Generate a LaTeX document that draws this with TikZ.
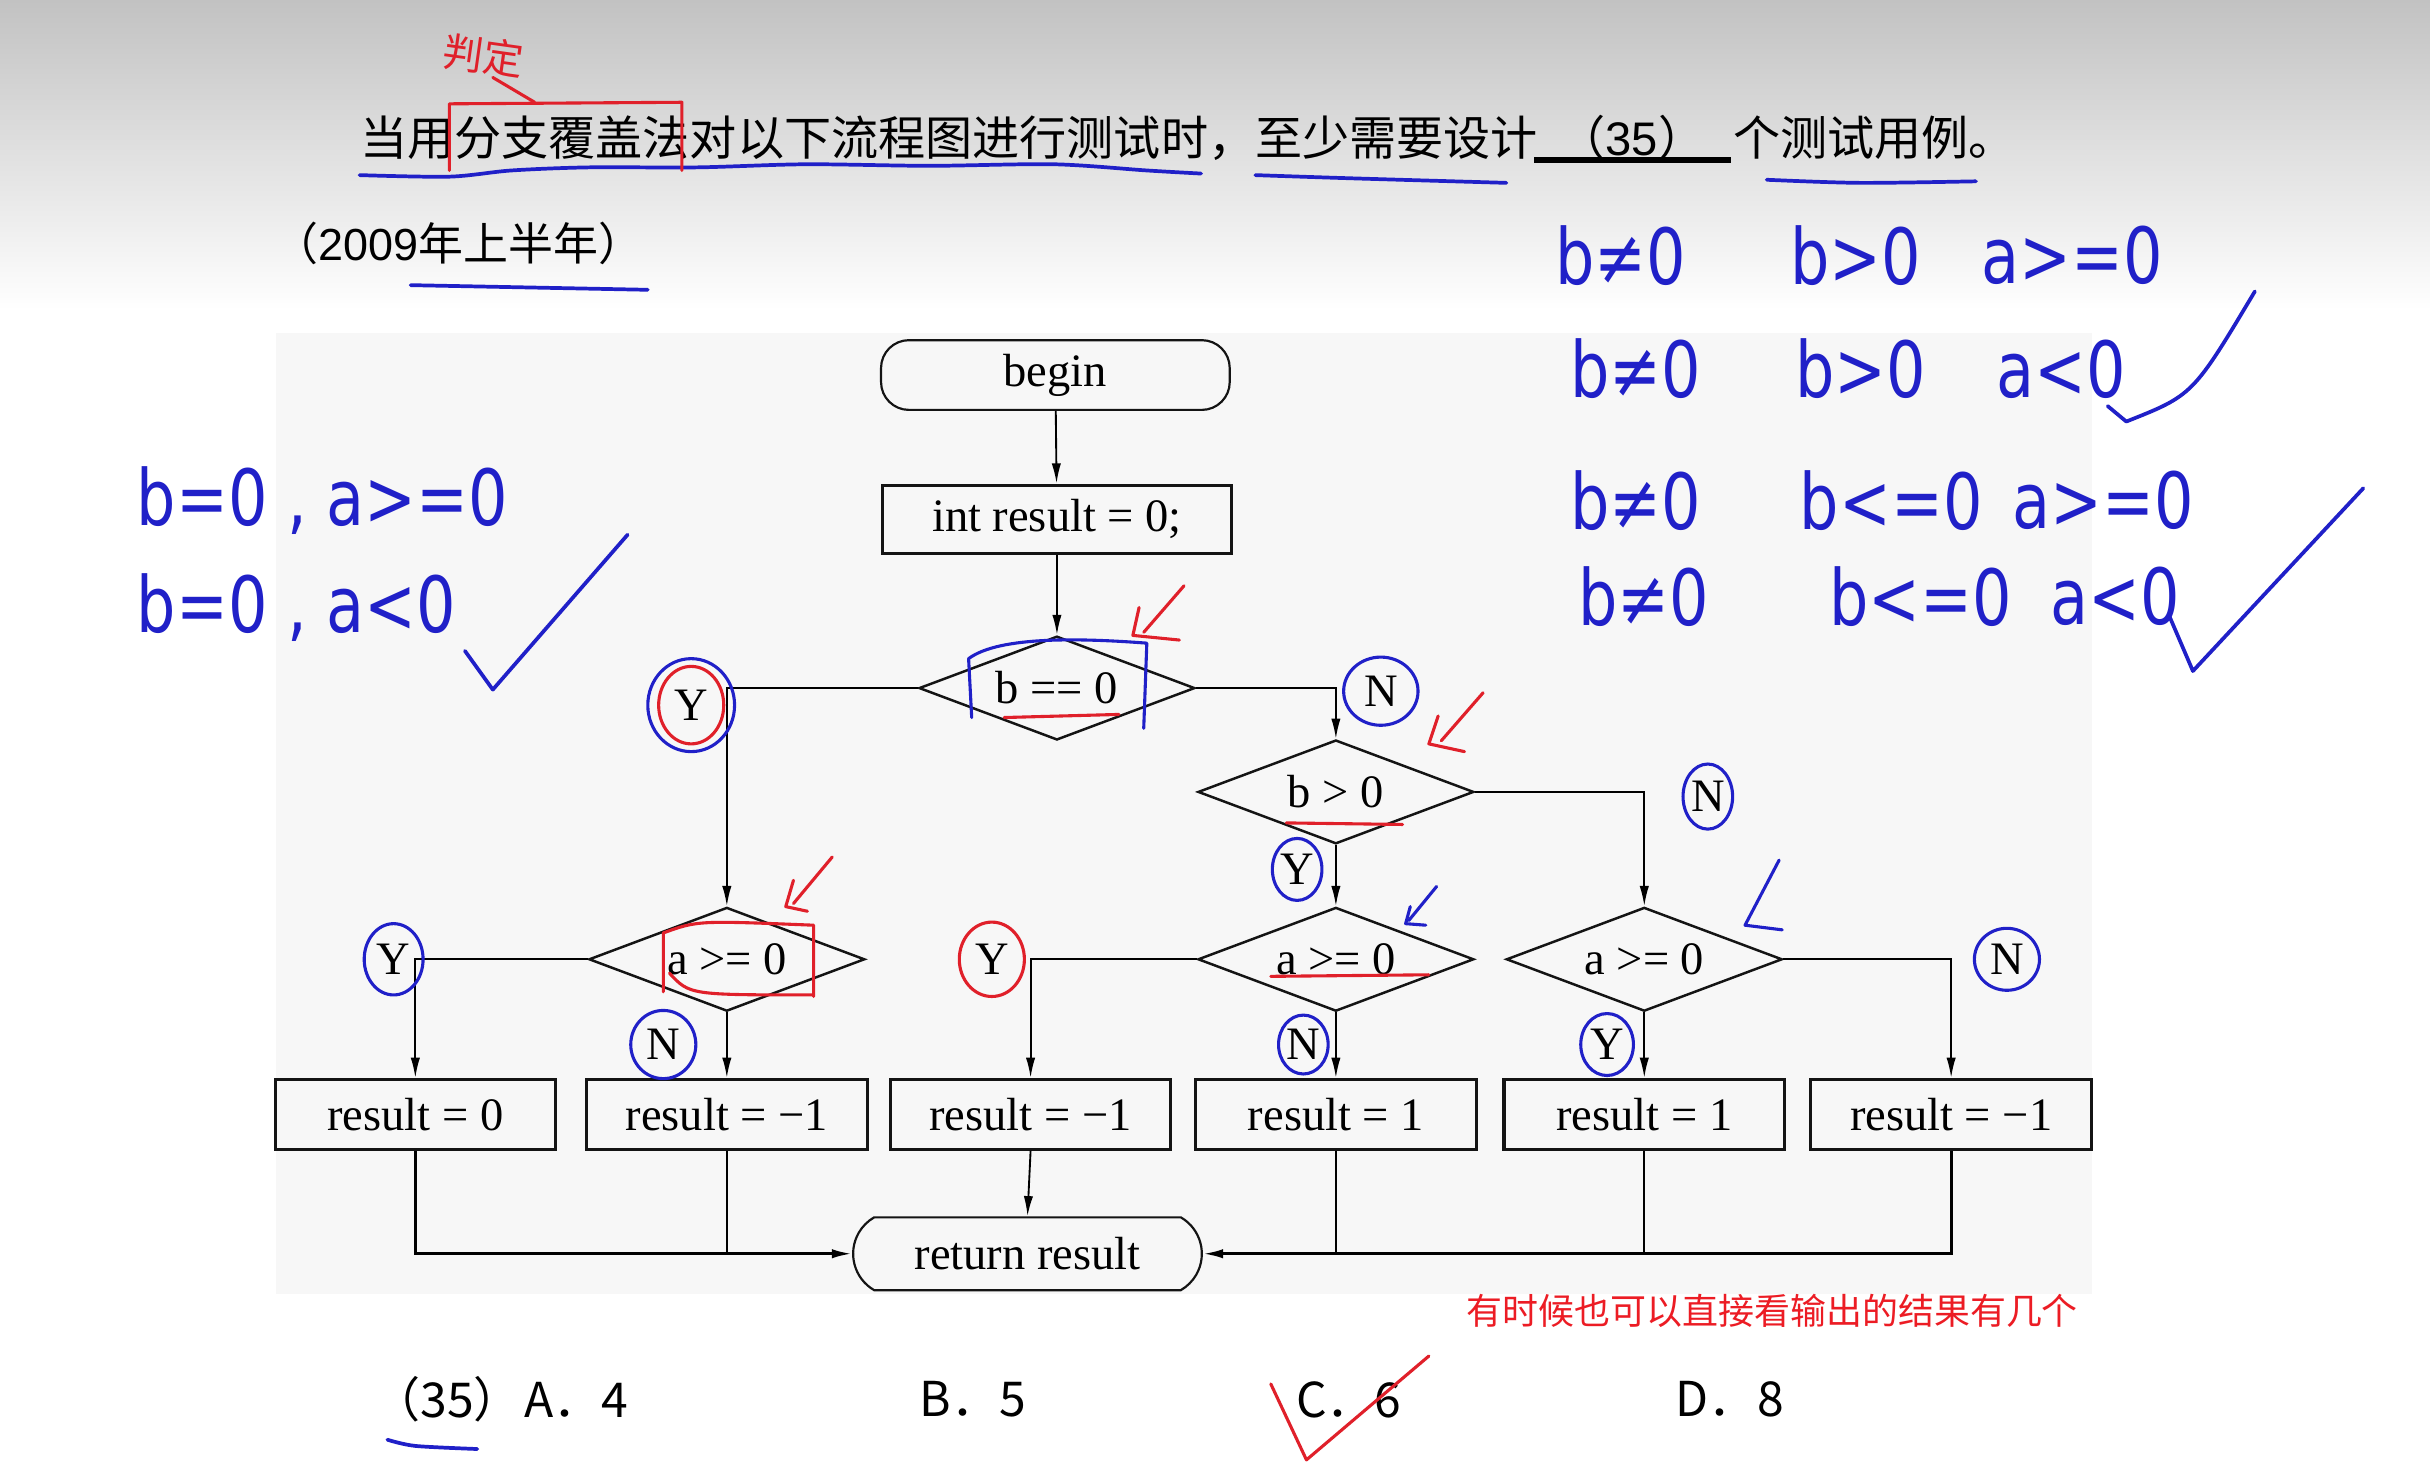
\documentclass[tikz,border=0pt]{standalone}
\usepackage{fontspec}
\usepackage{xcolor}
\usepackage{graphicx}
\usepackage{tikz}
\usetikzlibrary{arrows.meta,positioning,shapes.geometric,shapes.misc}
\setmainfont{Liberation Serif}
\newfontfamily\cjkfont{Noto Sans CJK SC}
\newfontfamily\latinsans{Liberation Sans}
\newfontfamily\handfont{DejaVu Sans}
\definecolor{slideInk}{HTML}{141414}
\definecolor{slideGray}{HTML}{C2C2C2}
\definecolor{chartBg}{HTML}{F7F7F7}
\definecolor{penBlue}{HTML}{2020C8}
\definecolor{penRed}{HTML}{E0202A}
\definecolor{noteRed}{HTML}{EC1C24}
\tikzset{
  flowterm/.style={rectangle,draw=slideInk,rounded corners=9pt,line width=0.7pt,
    minimum width=112.5pt,minimum height=22.5pt,inner sep=0pt,font=\fontsize{15}{18}\selectfont},
  flowret/.style={rounded rectangle,rounded rectangle arc length=120,draw=slideInk,line width=0.7pt,
    minimum width=112.5pt,minimum height=23.5pt,inner sep=0pt,font=\fontsize{15}{18}\selectfont},
  flowblock/.style={rectangle,draw=slideInk,line width=1pt,
    minimum width=90.5pt,minimum height=22.5pt,inner sep=0pt,font=\fontsize{15}{18}\selectfont},
  flowdecision/.style={diamond,draw=slideInk,line width=0.8pt,aspect=2.66,
    minimum width=89pt,minimum height=33.5pt,inner sep=0pt,font=\fontsize{15}{18}\selectfont},
  flowyn/.style={inner sep=0pt,font=\fontsize{15}{18}\selectfont},
  arrow/.style={-{Latex[length=6.5pt,width=3pt]},line width=0.6pt},
  link/.style={line width=0.6pt},
  quest/.style={inner sep=0pt,font=\cjkfont\fontsize{15.2}{18}\selectfont},
  optline/.style={inner sep=0pt,anchor=west,font=\cjkfont\fontsize{15.5}{18}\selectfont},
  handtext/.style={inner sep=0pt,anchor=west,text=penBlue,font=\handfont\fontsize{20}{24}\selectfont},
  pen/.style={penBlue,line width=1.2pt,line cap=round,line join=round},
  redpen/.style={penRed,line width=1pt,line cap=round,line join=round}
}

\begin{document}
\begin{tikzpicture}[x=0.5pt,y=-0.5pt]
  \useasboundingbox (0,0) rectangle (1568,952);
  % slide background
  \fill[white] (0,0) rectangle (1568,952);
  \shade[top color=slideGray,bottom color=white] (0,0) rectangle (1568,200);
  \fill[chartBg] (178,215) rectangle (1350,835);

  % question
  \node[quest,anchor=west] (qhead) at (232,89) {当用分支覆盖法对以下流程图进行测试时，至少需要设计};
  \node[quest] (qblank) at (1053,89) {（{\latinsans 35}）};
  \node[quest,anchor=west] (qtail) at (1118,89) {个测试用例。};
  \draw[line width=2pt] (990,103) -- (1117,103);
  \node[quest,anchor=west,font=\cjkfont\fontsize{14.5}{18}\selectfont] (qyear) at (176,157) {（{\latinsans 2009}年上半年）};

  % flow chart
  \node[flowterm] (begin) at (681,242) {begin};
  \node[flowblock,minimum width=112.5pt,minimum height=22pt] (init) at (682,335) {int result = 0;};
  \node[flowdecision] (bzero) at (682,444) {b == 0};
  \node[flowdecision] (bpos) at (862,511) {b > 0};
  \node[flowdecision] (aone) at (469,619) {a >= 0};
  \node[flowdecision] (atwo) at (862,619) {a >= 0};
  \node[flowdecision] (athree) at (1061,619) {a >= 0};
  \node[flowblock] (rone) at (268,719) {result = 0};
  \node[flowblock] (rtwo) at (469,719) {result = −1};
  \node[flowblock] (rthree) at (665,719) {result = −1};
  \node[flowblock] (rfour) at (862,719) {result = 1};
  \node[flowblock] (rfive) at (1061,719) {result = 1};
  \node[flowblock] (rsix) at (1259,719) {result = −1};
  \node[flowret] (ret) at (663,809) {return result};

  \draw[arrow] (begin) -- (init);
  \draw[arrow] (init) -- (bzero);
  \draw[arrow] (bzero.west) -| (aone.north);
  \draw[arrow] (bzero.east) -| (bpos.north);
  \draw[arrow] (bpos.south) -- (atwo.north);
  \draw[arrow] (bpos.east) -| (athree.north);
  \draw[arrow] (aone.west) -| (rone.north);
  \draw[arrow] (aone.south) -- (rtwo.north);
  \draw[arrow] (atwo.west) -| (rthree.north);
  \draw[arrow] (atwo.south) -- (rfour.north);
  \draw[arrow] (athree.south) -- (rfive.north);
  \draw[arrow] (athree.east) -| (rsix.north);
  \draw[arrow,line width=0.9pt] (rone.south) |- (ret.west);
  \draw[link] (rtwo.south) -- (rtwo.south |- ret.west);
  \draw[arrow] (rthree.south) -- (ret.north);
  \draw[arrow,line width=0.9pt] (rsix.south) |- (ret.east);
  \draw[link] (rfour.south) -- (rfour.south |- ret.east);
  \draw[link] (rfive.south) -- (rfive.south |- ret.east);

  % branch labels
  \node[flowyn] (ybzero) at (446,455) {Y};
  \node[flowyn] (nbzero) at (891,446) {N};
  \node[flowyn] (nbpos) at (1102,514) {N};
  \node[flowyn] (ybpos) at (837,561) {Y};
  \node[flowyn] (yaone) at (254,619) {Y};
  \node[flowyn] (naone) at (428,674) {N};
  \node[flowyn] (yatwo) at (640,619) {Y};
  \node[flowyn] (natwo) at (841,674) {N};
  \node[flowyn] (yathree) at (1037,674) {Y};
  \node[flowyn] (nathree) at (1295,619) {N};

  % answers
  \node[optline] (optq) at (240,903) {（35）};
  \node[optline] (opta) at (338,903) {A．4};
  \node[optline] (optb) at (593,903) {B．5};
  \node[optline] (optc) at (836,903) {C．6};
  \node[optline] (optd) at (1081,903) {D．8};
  \node[inner sep=0pt,anchor=west,text=noteRed,font=\cjkfont\fontsize{11.6}{14}\selectfont] (note) at (946,846) {有时候也可以直接看输出的结果有几个};

  % pen notes
  \foreach \hx/\hy/\htxt [count=\i] in {88/323/{b=0 , a>=0},88/392/{b=0 , a<0},
      1003/165/{b≠0},1155/165/{b>0},1278/165/{a>=0},
      1013/238/{b≠0},1158/238/{b>0},1288/238/{a<0},
      1013/323/{b≠0},1161/323/{b<=0},1298/323/{a>=0},
      1018/385/{b≠0},1180/385/{b<=0},1323/385/{a<0}}
    \node[handtext] (hw\i) at (\hx,\hy) {\scalebox{1}[1.25]{\htxt}};
  \draw[pen] (300,420) -- (318,445) -- (405,345);
  \draw[pen] (1360,262) -- (1372,272) .. controls (1415,255) .. (1455,188);
  \draw[pen] (1400,398) -- (1415,433) -- (1525,315);
  \draw[pen] plot[smooth] coordinates {(232,113) (290,114) (330,110) (380,108) (450,108) (520,106) (600,107) (680,106) (740,110) (775,112)};
  \draw[pen] plot[smooth] coordinates {(810,113) (870,115) (972,118)};
  \draw[pen] plot[smooth] coordinates {(1140,116) (1200,118) (1275,117)};
  \draw[pen] (265,184) -- (418,187);
  \draw[pen] plot[smooth] coordinates {(250,929) (268,933) (308,935)};

  \draw[pen,line width=1pt] (ybzero) ellipse [x radius=14pt,y radius=15pt];
  \draw[redpen] (ybzero) ellipse [x radius=10.5pt,y radius=12.5pt];
  \draw[pen,line width=1pt] (nbzero) ellipse [x radius=12pt,y radius=11pt];
  \draw[pen,line width=1pt] (nbpos) ellipse [x radius=8pt,y radius=10.5pt];
  \draw[pen,line width=1pt] (ybpos) ellipse [x radius=8pt,y radius=10pt];
  \draw[pen,line width=1pt] (yaone) ellipse [x radius=9.5pt,y radius=11.5pt];
  \draw[pen,line width=1pt] (naone) ellipse [x radius=10.5pt,y radius=11pt];
  \draw[redpen] (yatwo) ellipse [x radius=10.5pt,y radius=12pt];
  \draw[pen,line width=1pt] (natwo) ellipse [x radius=8pt,y radius=9.5pt];
  \draw[pen,line width=1pt] (yathree) ellipse [x radius=8.5pt,y radius=10pt];
  \draw[pen,line width=1pt] (nathree) ellipse [x radius=10.5pt,y radius=10pt];

  \draw[pen,line width=1pt] (627,463) -- (625,425) .. controls (645,410) and (700,412) .. (740,415) -- (738,470);
  \draw[redpen] (648,463) -- (722,461);
  \draw[redpen] (830,531) -- (905,532);
  \draw[redpen] (428,640) -- (428,602) .. controls (450,594) .. (525,597) -- (525,643);
  \draw[redpen] (432,628) .. controls (445,642) .. (525,642);
  \draw[redpen] (820,630) -- (922,629);
  \draw[redpen] (735,392) -- (731,410) -- (761,413);
  \draw[redpen] (764,378) -- (738,408);
  \draw[redpen] (928,462) -- (922,480) -- (945,485);
  \draw[redpen] (957,447) -- (930,478);
  \draw[redpen] (512,568) -- (507,585) -- (521,588);
  \draw[redpen] (537,553) -- (512,583);
  \draw[pen,line width=1pt] (910,585) -- (907,596) -- (920,597);
  \draw[pen,line width=1pt] (927,572) -- (909,594);
  \draw[pen,line width=1pt] (1148,555) -- (1126,597) -- (1150,600);

  % red box and note on the question
  \node[inner sep=0pt,text=penRed,rotate=-8,font=\cjkfont\fontsize{13}{15}\selectfont] (judge) at (312,36) {判定};
  \draw[redpen] (290,110) -- (290,67) -- (440,66) -- (440,110);
  \draw[redpen] (318,50) -- (345,66);
  \draw[redpen] (820,893) -- (843,942) -- (922,875);
\end{tikzpicture}
\end{document}
